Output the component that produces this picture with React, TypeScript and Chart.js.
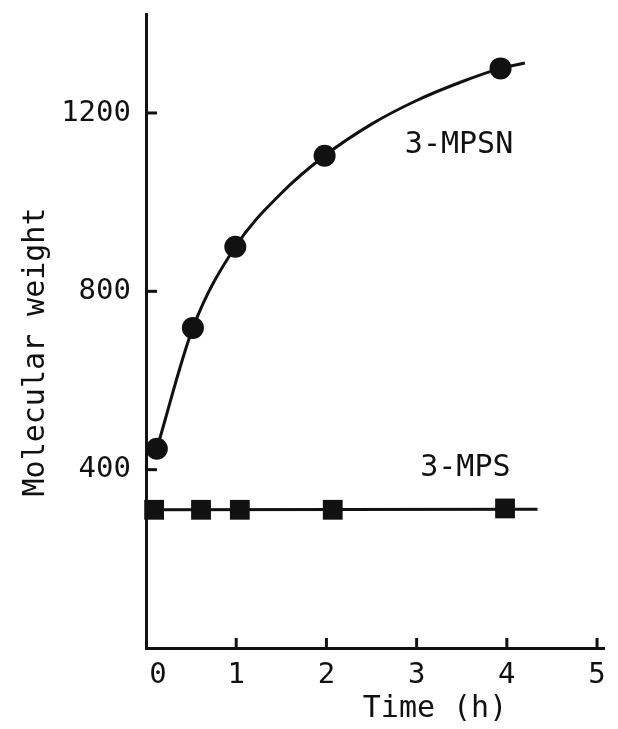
import { useEffect, useRef } from "react";
import { Chart, registerables } from "chart.js";

Chart.register(...registerables);

// ---- data ----
const xTickValues = [0, 1, 2, 3, 4, 5];
const yTickValues = [400, 800, 1200];

const mpsnTime = [0.12, 0.52, 0.99, 1.98, 3.93];
const mpsnMW = [447, 718, 900, 1104, 1300];
// smooth fitted curve (passes the points, runs a little past the last one)
const mpsnCurveTime = [0.12, 0.52, 0.99, 1.5, 1.98, 2.5, 3.0, 3.5, 3.93, 4.2];
const mpsnCurveMW = [447, 718, 900, 1020, 1104, 1175, 1228, 1270, 1300, 1312];

const mpsTime = [0.09, 0.61, 1.04, 2.07, 3.98];
const mpsMW = [310, 310, 310, 310, 313];
// horizontal fitted line
const mpsLineTime = [0, 4.34];
const mpsLineMW = [310, 311];

const seriesNames = ["3-MPSN", "3-MPS"];
const seriesLabelTime = [3.47, 3.54];
const seriesLabelMW = [1127, 404];

const xTitle = "Time (h)";
const yTitle = "Molecular weight";

const INK = "#111111";
const FONT = '"DejaVu Sans Mono", monospace';

const toXY = (xs: number[], ys: number[]) => xs.map((x, i) => ({ x, y: ys[i] }));

const decorPlugin = {
  id: "decor",
  afterDraw(chart: any) {
    const { ctx, chartArea } = chart;
    const xs = chart.scales.x;
    const ys = chart.scales.y;
    ctx.save();
    ctx.strokeStyle = INK;
    ctx.lineWidth = 3;
    ctx.lineCap = "butt";
    // inward y ticks
    yTickValues.forEach((v) => {
      const py = ys.getPixelForValue(v);
      ctx.beginPath();
      ctx.moveTo(chartArea.left, py);
      ctx.lineTo(chartArea.left + 11, py);
      ctx.stroke();
    });
    // inward x ticks
    xTickValues
      .filter((v) => v > 0)
      .forEach((v) => {
        const px = xs.getPixelForValue(v);
        ctx.beginPath();
        ctx.moveTo(px, chartArea.bottom);
        ctx.lineTo(px, chartArea.bottom - 10);
        ctx.stroke();
      });
    ctx.fillStyle = INK;
    // x tick labels
    ctx.font = `29px ${FONT}`;
    ctx.textAlign = "center";
    ctx.textBaseline = "alphabetic";
    xTickValues.forEach((v) => {
      const px = xs.getPixelForValue(v) + (v === 0 ? 12 : 0);
      ctx.fillText(String(v), px, chartArea.bottom + 35);
    });
    // series labels
    ctx.font = `30px ${FONT}`;
    ctx.textBaseline = "middle";
    seriesNames.forEach((name, i) => {
      ctx.fillText(
        name,
        xs.getPixelForValue(seriesLabelTime[i]),
        ys.getPixelForValue(seriesLabelMW[i])
      );
    });
    // axis titles
    ctx.textBaseline = "alphabetic";
    ctx.fillText(xTitle, 435, 717);
    ctx.translate(44, 352);
    ctx.rotate(-Math.PI / 2);
    ctx.fillText(yTitle, 0, 0);
    ctx.restore();
  },
};

export default function App() {
  const canvasRef = useRef<HTMLCanvasElement | null>(null);

  useEffect(() => {
    const canvas = canvasRef.current;
    if (!canvas) return;
    const chart = new Chart(canvas, {
      type: "scatter",
      data: {
        datasets: [
          {
            label: "3-MPSN",
            data: toXY(mpsnTime, mpsnMW),
            showLine: false,
            pointStyle: "circle",
            pointRadius: 11,
            pointHoverRadius: 11,
            pointBackgroundColor: INK,
            pointBorderColor: INK,
            pointBorderWidth: 0,
            clip: false,
            order: 0,
          },
          {
            label: "3-MPS",
            data: toXY(mpsTime, mpsMW),
            showLine: false,
            pointStyle: "rect",
            pointRadius: 14,
            pointHoverRadius: 14,
            pointBackgroundColor: INK,
            pointBorderColor: INK,
            pointBorderWidth: 0,
            clip: false,
            order: 0,
          },
          {
            label: "3-MPSN fit",
            data: toXY(mpsnCurveTime, mpsnCurveMW),
            showLine: true,
            pointRadius: 0,
            borderColor: INK,
            borderWidth: 3,
            cubicInterpolationMode: "monotone",
            clip: false,
            order: 1,
          },
          {
            label: "3-MPS fit",
            data: toXY(mpsLineTime, mpsLineMW),
            showLine: true,
            pointRadius: 0,
            borderColor: INK,
            borderWidth: 3,
            clip: false,
            order: 1,
          },
        ],
      },
      options: {
        animation: false,
        responsive: false,
        layout: { padding: { top: 7, right: 11, left: 0, bottom: 0 } },
        plugins: {
          legend: { display: false },
          tooltip: { enabled: false },
        },
        scales: {
          x: {
            type: "linear",
            min: 0,
            max: 5.077,
            afterBuildTicks: (scale: any) => {
              scale.ticks = xTickValues.map((v) => ({ value: v }));
            },
            afterFit: (scale: any) => {
              scale.height = 81;
              scale.paddingLeft = 0;
              scale.paddingRight = 0;
            },
            grid: { display: false, drawTicks: false },
            border: { display: true, color: INK, width: 3 },
            ticks: { display: false },
            title: { display: false },
          },
          y: {
            type: "linear",
            min: 0,
            max: 1422,
            afterBuildTicks: (scale: any) => {
              scale.ticks = yTickValues.map((v) => ({ value: v }));
            },
            afterFit: (scale: any) => {
              scale.width = 146;
              scale.paddingTop = 0;
              scale.paddingBottom = 0;
            },
            grid: { display: false, drawTicks: false },
            border: { display: true, color: INK, width: 3 },
            ticks: {
              padding: 15,
              color: INK,
              font: { family: FONT, size: 29 },
              callback: (v: any) => String(v),
            },
            title: { display: false },
          },
        },
      },
      plugins: [decorPlugin],
    });
    return () => chart.destroy();
  }, []);

  return (
    <div style={{ position: "absolute", left: 0, top: 0, width: 618, height: 729, background: "#fff" }}>
      <canvas ref={canvasRef} width={618} height={729} />
    </div>
  );
}
